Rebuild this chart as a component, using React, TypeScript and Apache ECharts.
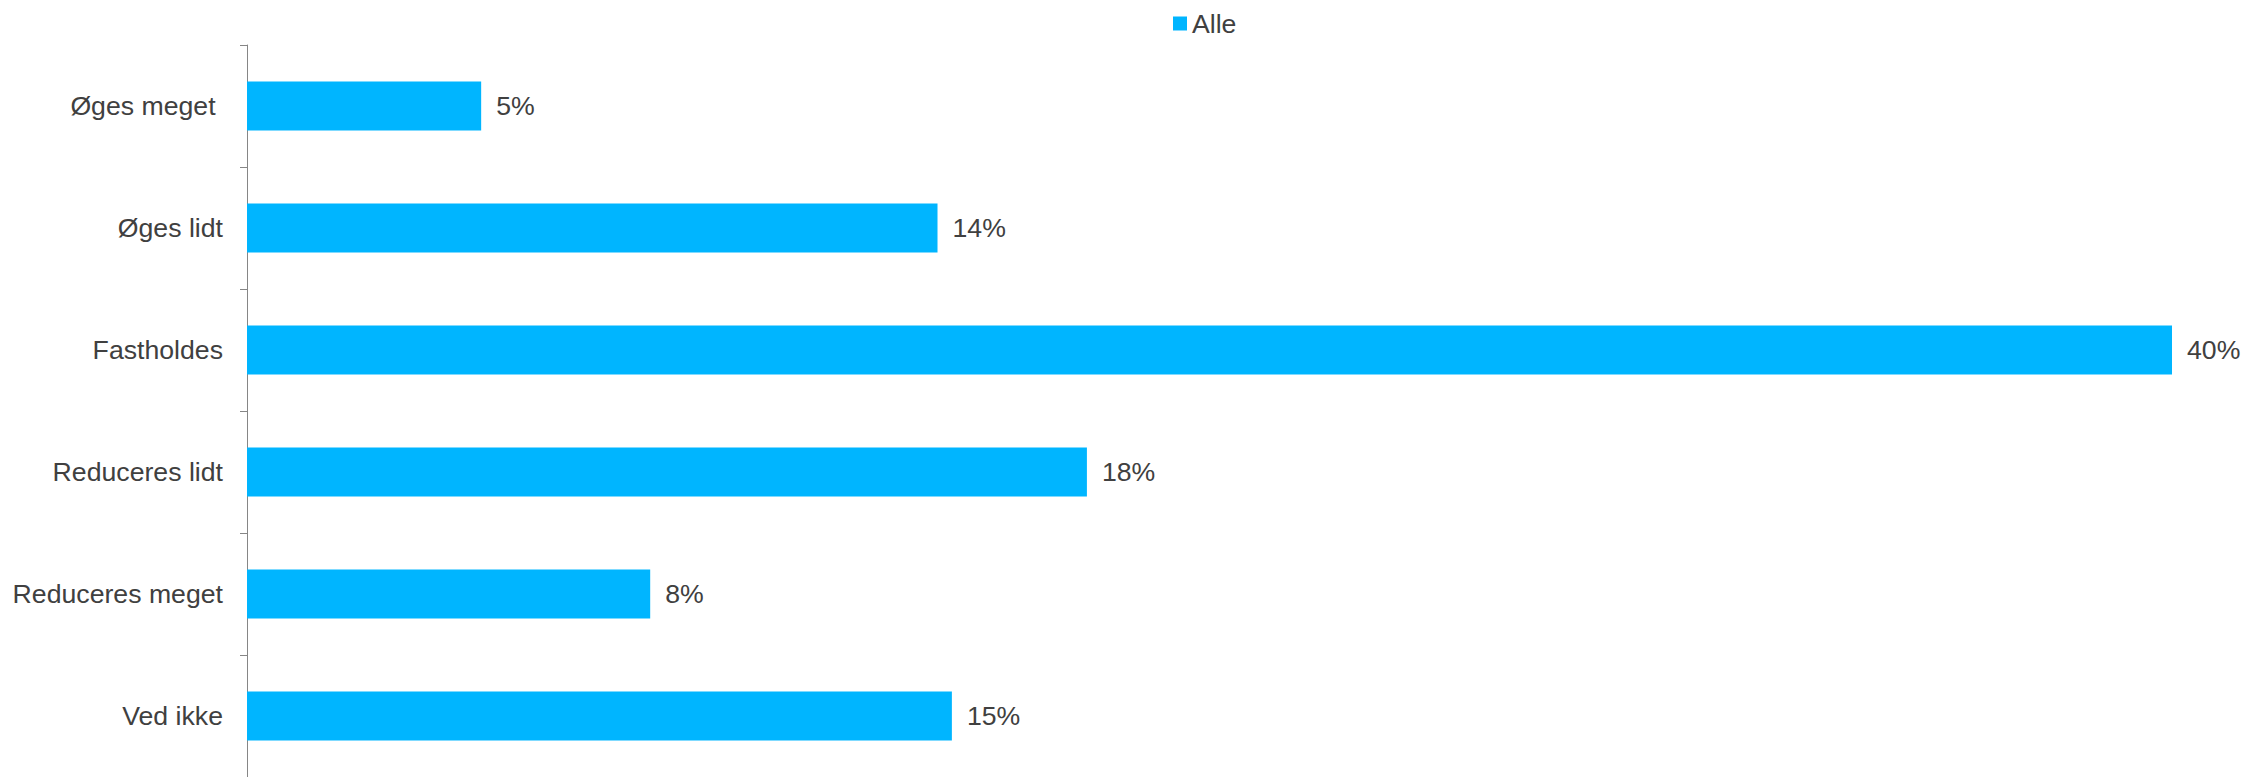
import React, { useEffect, useRef } from "react";
import * as echarts from "echarts";

const categories = [
  "Øges meget ",
  "Øges lidt",
  "Fastholdes",
  "Reduceres lidt",
  "Reduceres meget",
  "Ved ikke",
];
const seriesName = "Alle";
const values = [0.0489, 0.1442, 0.402, 0.1754, 0.0842, 0.1472];

const FONT = "'Liberation Sans', Arial, sans-serif";
const TEXT = "#404040";
const BAR = "#00B5FF";
const FS = 26.67;

export default function App() {
  const ref = useRef<HTMLDivElement>(null);
  useEffect(() => {
    if (!ref.current) return;
    const chart = echarts.init(ref.current, null, { renderer: "svg" });
    chart.setOption({
      animation: false,
      backgroundColor: "#ffffff",
      textStyle: { fontFamily: FONT },
      legend: {
        data: [seriesName],
        top: 10,
        left: 1173,
        padding: 0,
        itemWidth: 14,
        itemHeight: 14,
        itemGap: 10,
        icon: "rect",
        textStyle: { fontSize: FS, color: TEXT, fontFamily: FONT },
      },
      grid: { left: 247, top: 45, height: 735, right: 74, containLabel: false },
      xAxis: {
        type: "value",
        min: 0,
        max: "dataMax",
        show: false,
        splitLine: { show: false },
      },
      yAxis: {
        type: "category",
        data: categories,
        inverse: true,
        axisLine: { show: true, lineStyle: { color: "#868686", width: 1 } },
        axisTick: { show: true, length: 7, lineStyle: { color: "#868686" } },
        axisLabel: { fontSize: FS, color: TEXT, margin: 24, fontFamily: FONT },
      },
      series: [
        {
          name: seriesName,
          type: "bar",
          data: values,
          barCategoryGap: "60%",
          itemStyle: { color: BAR },
          label: {
            show: true,
            position: "right",
            distance: 15,
            fontSize: FS,
            color: TEXT,
            fontFamily: FONT,
            formatter: (p: any) => Math.round(p.value * 100) + "%",
          },
        },
      ],
    });
    return () => chart.dispose();
  }, []);
  return (
    <div
      ref={ref}
      style={{ position: "absolute", left: 0, top: 0, width: 2246, height: 777 }}
    />
  );
}
